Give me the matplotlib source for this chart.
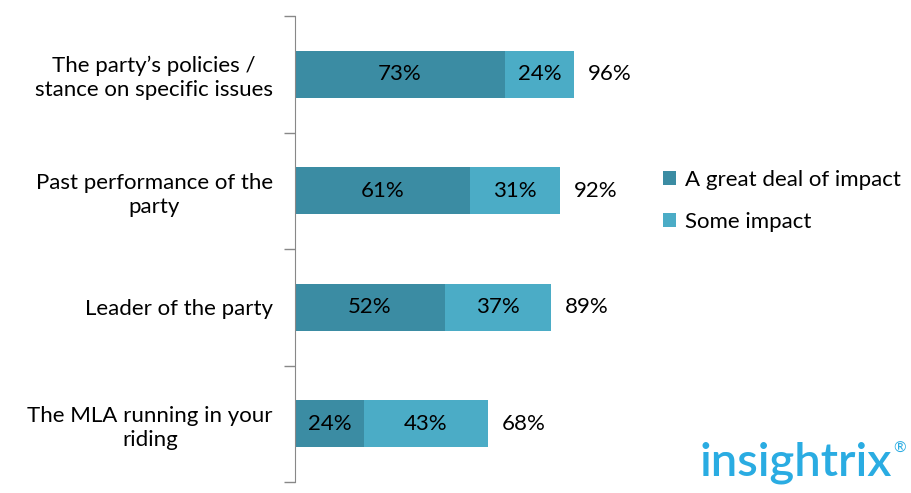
import numpy as np
import matplotlib
matplotlib.use("Agg")
import matplotlib.pyplot as plt

plt.rcParams['font.family'] = ['Lato', 'DejaVu Sans']

categories = ["The party’s policies /\nstance on specific issues",
              "Past performance of the\nparty",
              "Leader of the party",
              "The MLA running in your\nriding"]
great_deal = [73, 61, 52, 24]
some = [24, 31, 37, 43]
totals = [96, 92, 89, 68]
series_names = ["A great deal of impact", "Some impact"]

c_dark = "#3b8ca3"
c_light = "#4bacc6"

fig = plt.figure(figsize=(9.12, 4.93), dpi=100)
ax = fig.add_axes([295 / 912, 11 / 493, 287.7 / 912, 466 / 493])

y = np.arange(len(categories))
b1 = ax.barh(y, great_deal, height=0.4, color=c_dark, label=series_names[0])
b2 = ax.barh(y, some, height=0.4, left=great_deal, color=c_light, label=series_names[1])

for i in range(len(categories)):
    ax.text(great_deal[i] / 2, y[i], f"{great_deal[i]}%", ha="center", va="center", fontsize=16)
    ax.text(great_deal[i] + some[i] / 2, y[i], f"{some[i]}%", ha="center", va="center", fontsize=16)
    ax.annotate(f"{totals[i]}%", (great_deal[i] + some[i], y[i]), xytext=(10, 0),
                textcoords="offset points", ha="left", va="center", fontsize=16)

ax.set_xlim(0, 100)
ax.set_ylim(len(categories) - 0.5, -0.5)
ax.set_xticks([])
ax.set_yticks(np.arange(len(categories) + 1) - 0.5, minor=True)
ax.set_yticks(y)
ax.set_yticklabels(categories, fontsize=16, ha="right", multialignment="center", linespacing=1.25)
ax.tick_params(axis="y", which="major", length=0, pad=16)
ax.tick_params(axis="y", which="minor", length=8, color="#888888", width=1)
for s in ["top", "right", "bottom"]:
    ax.spines[s].set_visible(False)
ax.spines["left"].set_color("#888888")

fig.legend(handles=[b1, b2], loc="upper left", bbox_to_anchor=(663 / 912, 1 - 170 / 493),
           frameon=False, fontsize=16, handlelength=0.6, handleheight=0.6,
           handletextpad=0.4, labelspacing=1.0, borderaxespad=0, borderpad=0)

fig.text(700 / 912, 18 / 493, "insightrix", color="#2aace2", fontsize=34,
         fontweight="semibold", ha="left", va="baseline")
fig.text(893 / 912, 40 / 493, "®", color="#2aace2", fontsize=11, ha="left", va="baseline")

fig.savefig("out.png", dpi=100)
